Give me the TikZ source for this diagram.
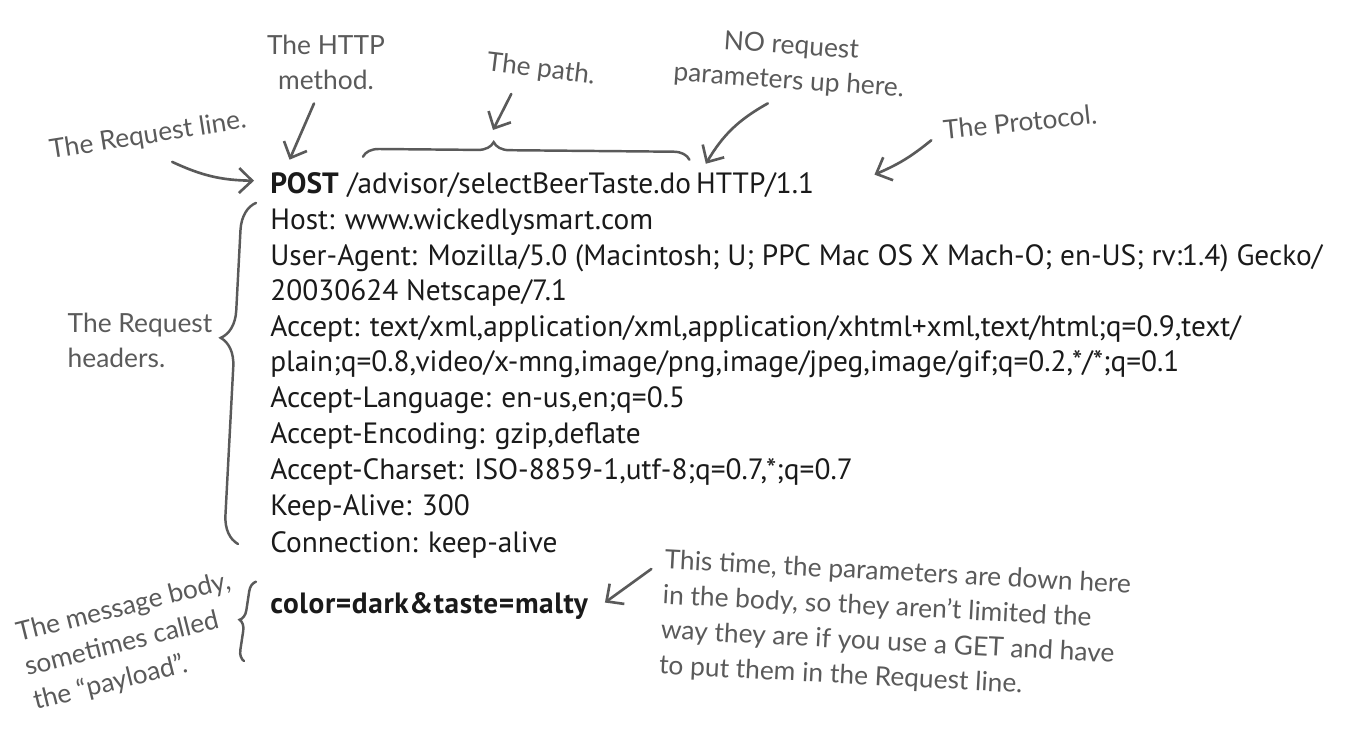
\documentclass[tikz,border=0pt]{standalone}
\usepackage{fontspec}
\setmainfont{PT Sans}
\newfontfamily\handfont{Lato}
\usetikzlibrary{arrows.meta,positioning,calc,decorations.pathreplacing}
\definecolor{ink}{HTML}{1A1A1A}
\definecolor{pencil}{HTML}{5A5A5A}
\tikzset{
  req/.style     ={anchor=base west, inner sep=0pt, text=ink, font=\fontsize{16.7}{20}\selectfont},
  note/.style    ={inner sep=1pt, text=pencil, align=center, font=\handfont\fontsize{15}{20}\selectfont},
  lnote/.style   ={note, align=left},
  inkarr/.style  ={draw=pencil, line width=1.5pt, line cap=round, -{Straight Barb[length=2.6mm,width=5mm,line width=1.5pt]}},
  inkbrace/.style={draw=pencil, line width=1.4pt, line cap=round, decorate, decoration={brace, amplitude=#1}},
}

\begin{document}
\begin{tikzpicture}[x=0.02cm, y=-0.02cm]
  \useasboundingbox (0,0) rectangle (1346,730);

  % the request
  \node[req] (post) at (270,193) {\textbf{POST}};
  \node[req, base right=0.45em of post] (path) {/advisor/selectBeerTaste.do};
  \node[req, base right=0.25em of path] (proto) {HTTP/1.1};
  \node[req] (l2)  at (270,229) {Host: www.wickedlysmart.com};
  \node[req] (l3)  at (270,265) {User-Agent: Mozilla/5.0 (Macintosh; U; PPC Mac OS X Mach-O; en-US; rv:1.4) Gecko/};
  \node[req] (l4)  at (270,300) {20030624 Netscape/7.1};
  \node[req] (l5)  at (270,336) {Accept: text/xml,application/xml,application/xhtml+xml,text/html;q=0.9,text/};
  \node[req] (l6)  at (270,371) {plain;q=0.8,video/x-mng,image/png,image/jpeg,image/gif;q=0.2,*/*;q=0.1};
  \node[req] (l7)  at (270,407) {Accept-Language: en-us,en;q=0.5};
  \node[req] (l8)  at (270,443) {Accept-Encoding: gzip,deflate};
  \node[req] (l9)  at (270,479) {Accept-Charset: ISO-8859-1,utf-8;q=0.7,*;q=0.7};
  \node[req] (l10) at (270,515) {Keep-Alive: 300};
  \node[req] (l11) at (270,552) {Connection: keep-alive};
  \node[req] (body) at (270,613) {\textbf{\addfontfeature{LetterSpace=2}color=dark\&taste=malty}};

  % the notes
  \node[note] (method) at (326,62) {The HTTP\\method.};
  \node[note, rotate=9] (reqline) at (148,136) {The Request line.};
  \node[note, rotate=-7] (pathnote) at (541,70) {The path.};
  \node[note, rotate=-4] (noparam) at (790,64) {NO request\\parameters up here.};
  \node[note, rotate=6] (protonote) at (1020,122) {The Protocol.};
  \node[lnote] (hdrnote) at (140,340) {The Request\\headers.};
  \node[lnote, rotate=14] (bodynote) at (132,642) {The message body,\\sometimes called\\the \textquotedblleft payload\textquotedblright.};
  \node[lnote, rotate=-3] (paramnote) at (895,626) {This time, the parameters are down here\\in the body, so they aren’t limited the\\way they are if you use a GET and have\\to put them in the Request line.};

  % braces
  \coordinate (pathtip) at (505,138);
  \draw[inkbrace=9pt, decoration={aspect=0.4}] ($(path.north west)+(16,-15)$) -- ($(path.north east)+(-2,-12)$);
  \draw[inkbrace=16pt, decoration={aspect=0.6}] ($(l11.base west)+(-32,-8)$) -- ($(l2.north west)+(-14,-5)$);
  \draw[inkbrace=6pt, decoration={aspect=0.5}] ($(body.base west)+(-26,48)$) -- ($(body.north west)+(-14,-10)$);

  % arrows
  \draw[inkarr] ($(reqline.south)+(22,12)$) to[bend right=12] ($(post.west)+(-16,-2)$);
  \draw[inkarr] ($(method.south)+(-12,12)$) -- ($(post.north)+(-15,-12)$);
  \draw[inkarr] ($(pathnote.south)+(-28,10)$) -- ($(pathtip)+(-12,-8)$);
  \draw[inkarr] ($(noparam.south)+(-20,8)$) to[bend right=15] ($(proto.north west)+(10,-8)$);
  \draw[inkarr] ($(protonote.west)+(-10,10)$) to[bend left=8] ($(proto.east)+(60,-10)$);
  \draw[inkarr] ($(paramnote.north west)+(-12,22)$) -- ($(body.east)+(16,-3)$);
\end{tikzpicture}
\end{document}
